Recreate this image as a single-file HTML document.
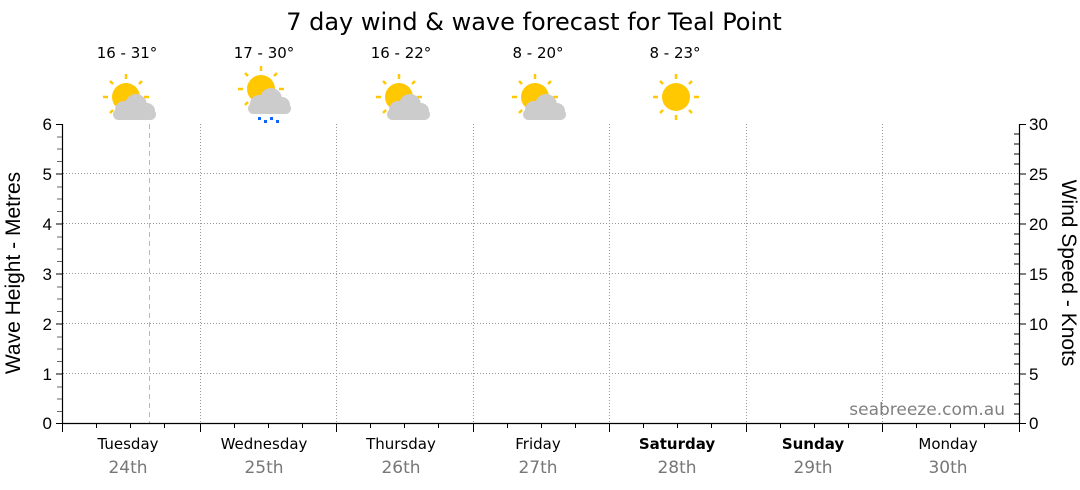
<!DOCTYPE html>
<html><head><meta charset="utf-8"><style>
body{margin:0;background:#fff;}
svg{display:block;font-family:"DejaVu Sans","Liberation Sans",sans-serif;}
</style></head><body>
<svg width="1080" height="490" viewBox="0 0 1080 490" xmlns="http://www.w3.org/2000/svg">
<defs>
<g id="sun">
 <circle cx="0" cy="0" r="14" fill="#ffc800"/>
 <g stroke="#ffc800" stroke-width="2.5">
  <line x1="0" y1="-18" x2="0" y2="-23"/><line x1="0" y1="18" x2="0" y2="23"/>
  <line x1="-18" y1="0" x2="-23" y2="0"/><line x1="18" y1="0" x2="23" y2="0"/>
  <line x1="13" y1="-13" x2="16" y2="-16"/><line x1="-13" y1="-13" x2="-16" y2="-16"/>
  <line x1="13" y1="13" x2="16" y2="16"/><line x1="-13" y1="13" x2="-16" y2="16"/>
 </g>
</g>
<g id="cloud" fill="#cccccc">
 <circle cx="2" cy="0" r="11"/><circle cx="-10" cy="5" r="9"/><circle cx="13" cy="6" r="8"/>
 <rect x="-21" y="4" width="43" height="11" rx="5.5"/>
</g>
</defs>
<text x="534" y="30" font-size="24" text-anchor="middle" fill="#000">7 day wind &amp; wave forecast for Teal Point</text>
<g font-size="15" text-anchor="middle" fill="#000">
<text x="127" y="58">16 - 31°</text><text x="264" y="58">17 - 30°</text>
<text x="401" y="58">16 - 22°</text><text x="538" y="58">8 - 20°</text><text x="675" y="58">8 - 23°</text>
</g>
<use href="#sun" x="126" y="97"/><use href="#cloud" x="134" y="105"/>
<use href="#sun" x="261" y="89"/><use href="#cloud" x="269" y="99"/>
<g fill="#0a64ff"><rect x="258" y="117" width="3" height="3"/><rect x="264" y="120" width="3" height="3"/><rect x="270" y="117" width="3" height="3"/><rect x="276" y="120" width="3" height="3"/></g>
<use href="#sun" x="399" y="97"/><use href="#cloud" x="408" y="105"/>
<use href="#sun" x="535" y="97"/><use href="#cloud" x="544" y="105"/>
<use href="#sun" x="676" y="97"/>
<g stroke="#999" stroke-width="1" stroke-dasharray="1,2">
<line x1="63" y1="373.5" x2="1019" y2="373.5"/><line x1="63" y1="323.5" x2="1019" y2="323.5"/>
<line x1="63" y1="273.5" x2="1019" y2="273.5"/><line x1="63" y1="223.5" x2="1019" y2="223.5"/>
<line x1="63" y1="173.5" x2="1019" y2="173.5"/>
<line x1="200.5" y1="124" x2="200.5" y2="423"/><line x1="336.5" y1="124" x2="336.5" y2="423"/>
<line x1="473.5" y1="124" x2="473.5" y2="423"/><line x1="609.5" y1="124" x2="609.5" y2="423"/>
<line x1="746.5" y1="124" x2="746.5" y2="423"/><line x1="882.5" y1="124" x2="882.5" y2="423"/>
</g>
<line x1="149.5" y1="124" x2="149.5" y2="423" stroke="#f0a0a0" stroke-dasharray="5,4"/>
<g stroke="#000" stroke-width="1.2">
<line x1="62.5" y1="124" x2="62.5" y2="423"/><line x1="1019.5" y1="124" x2="1019.5" y2="423"/>
<line x1="62" y1="423.5" x2="1020" y2="423.5"/>
</g>
<g stroke="#000" stroke-width="1">
<path d="M56 124.5H62M56 174H62M56 224H62M56 274H62M56 324H62M56 374H62M56 423.5H62"/>
<path d="M62 137H57M62 149H57M62 161.5H57M62 187H57M62 199H57M62 211.5H57M62 237H57M62 249H57M62 261.5H57M62 287H57M62 299H57M62 311.5H57M62 337H57M62 349H57M62 361.5H57M62 387H57M62 399H57M62 411.5H57" stroke="#666"/>
<path d="M1019 124.5H1026M1019 174H1026M1019 224H1026M1019 274H1026M1019 324H1026M1019 374H1026M1019 423.5H1026"/>
<path d="M1019 134H1014M1019 144H1014M1019 154H1014M1019 164H1014M1019 184H1014M1019 194H1014M1019 204H1014M1019 214H1014M1019 234H1014M1019 244H1014M1019 254H1014M1019 264H1014M1019 284H1014M1019 294H1014M1019 304H1014M1019 314H1014M1019 334H1014M1019 344H1014M1019 354H1014M1019 364H1014M1019 384H1014M1019 394H1014M1019 404H1014M1019 414H1014"/>
<path d="M62.5 423V432M200.5 423V432M336.5 423V432M473.5 423V432M609.5 423V432M746.5 423V432M882.5 423V432M1019.5 423V432"/>
<path d="M96.5 423V428M130.5 423V428M164.5 423V428M234.5 423V428M268.5 423V428M302.5 423V428M370.5 423V428M404.5 423V428M438.5 423V428M507.5 423V428M541.5 423V428M575.5 423V428M643.5 423V428M677.5 423V428M711.5 423V428M780.5 423V428M814.5 423V428M848.5 423V428M916.5 423V428M950.5 423V428M984.5 423V428"/>
</g>
<g font-size="17" fill="#000" text-anchor="end" font-family="Liberation Sans,sans-serif">
<text x="52" y="130">6</text><text x="52" y="180">5</text><text x="52" y="230">4</text><text x="52" y="280">3</text><text x="52" y="330">2</text><text x="52" y="380">1</text><text x="52" y="429">0</text>
</g>
<g font-size="17" fill="#000" font-family="Liberation Sans,sans-serif">
<text x="1029" y="130">30</text><text x="1029" y="180">25</text><text x="1029" y="230">20</text><text x="1029" y="280">15</text><text x="1029" y="330">10</text><text x="1029" y="380">5</text><text x="1029" y="429">0</text>
</g>
<text transform="translate(20,273) rotate(-90)" font-size="21" text-anchor="middle" font-family="Liberation Sans,sans-serif">Wave Height - Metres</text>
<text transform="translate(1062,273) rotate(90)" font-size="21" text-anchor="middle" font-family="Liberation Sans,sans-serif">Wind Speed - Knots</text>
<text x="1005" y="415" font-size="17" fill="#808080" text-anchor="end">seabreeze.com.au</text>
<g font-size="15" text-anchor="middle" fill="#000">
<text x="128" y="449">Tuesday</text><text x="264" y="449">Wednesday</text><text x="401" y="449">Thursday</text><text x="538" y="449">Friday</text>
<text x="677" y="449" font-weight="bold">Saturday</text><text x="813" y="449" font-weight="bold">Sunday</text><text x="948" y="449">Monday</text>
</g>
<g font-size="17" text-anchor="middle" fill="#777">
<text x="128" y="473">24th</text><text x="264" y="473">25th</text><text x="401" y="473">26th</text><text x="538" y="473">27th</text>
<text x="677" y="473">28th</text><text x="813" y="473">29th</text><text x="948" y="473">30th</text>
</g>
</svg>
</body></html>
